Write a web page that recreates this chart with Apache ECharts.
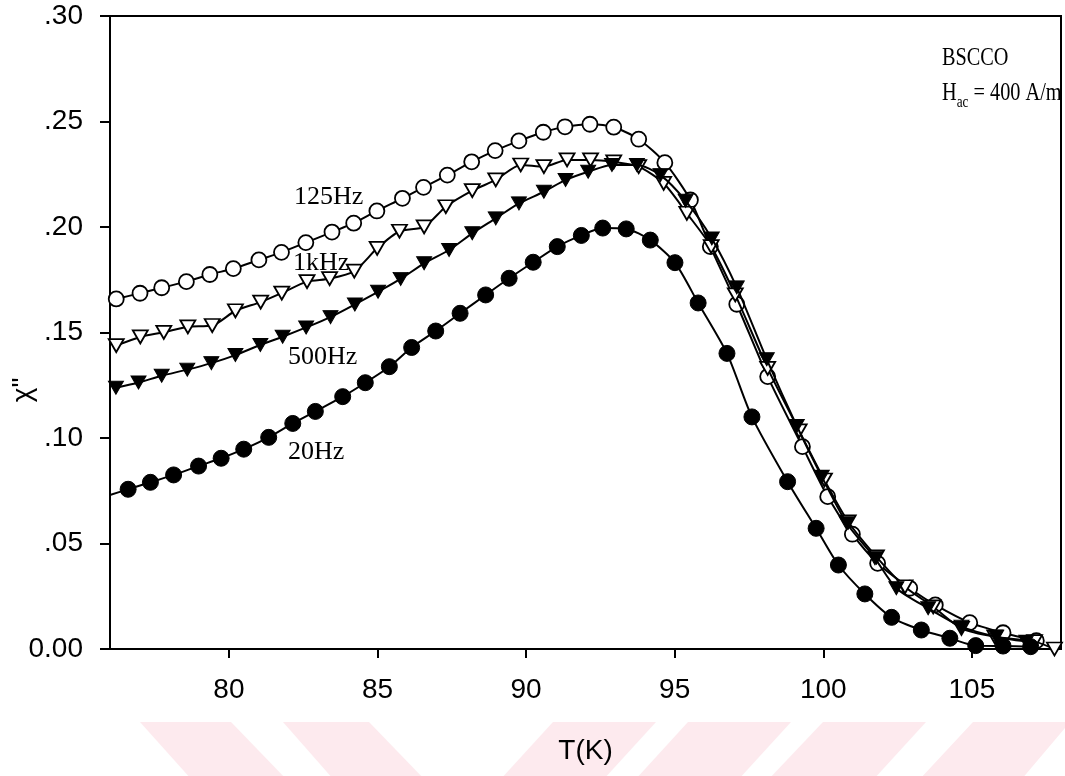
<!DOCTYPE html>
<html>
<head>
<meta charset="utf-8">
<script src="https://cdn.jsdelivr.net/npm/echarts@6/dist/echarts.min.js"></script>
<style>
html,body{margin:0;padding:0;background:#fff;}
#chart{width:1065px;height:776px;}
</style>
</head>
<body>
<div id="chart"></div>
<script>
// ---- data (T in K, chi'' values) ----
const xTicks = [80, 85, 90, 95, 100, 105];
const yTicks = [0, 0.05, 0.10, 0.15, 0.20, 0.25, 0.30];

const hz125 = [
  [76.21,0.1659],[77.01,0.1686],[77.74,0.1712],[78.57,0.1741],[79.36,0.1775],[80.15,0.1803],
  [81.01,0.1844],[81.77,0.1880],[82.59,0.1926],[83.47,0.1976],[84.20,0.2018],[84.98,0.2076],
  [85.84,0.2136],[86.55,0.2188],[87.35,0.2246],[88.17,0.2309],[88.96,0.2362],[89.76,0.2408],
  [90.58,0.2449],[91.31,0.2475],[92.15,0.2487],[92.95,0.2473],[93.79,0.2416],[94.67,0.2305],
  [95.53,0.2128],[96.20,0.1907],[97.09,0.1634],[98.13,0.1291],[99.30,0.0959],[100.15,0.0722],
  [100.98,0.0544],[101.83,0.0406],[102.91,0.0288],[103.77,0.0209],[104.93,0.0125],[106.05,0.0077],
  [107.17,0.0039]
];
const hz1k = [
  [76.21,0.1438],[77.02,0.1479],[77.81,0.1501],[78.62,0.1527],[79.44,0.1533],[80.22,0.1603],
  [81.07,0.1644],[81.78,0.1687],[82.63,0.1741],[83.39,0.1755],[84.22,0.1791],[84.99,0.1899],
  [85.74,0.1980],[86.57,0.2001],[87.30,0.2096],[88.19,0.2172],[88.98,0.2223],[89.82,0.2294],
  [90.60,0.2286],[91.38,0.2318],[92.17,0.2318],[92.95,0.2309],[93.79,0.2286],[94.63,0.2207],
  [95.41,0.2065],[96.23,0.1907],[97.04,0.1678],[98.13,0.1330],[99.19,0.1034],[100.04,0.0801],
  [100.84,0.0603],[101.79,0.0437],[102.75,0.0295],[103.70,0.0200],[104.65,0.0098],[105.77,0.0058],
  [107.11,0.0035],[107.78,0.0000]
];
const hz500 = [
  [76.20,0.1238],[76.96,0.1263],[77.74,0.1295],[78.60,0.1324],[79.41,0.1355],[80.22,0.1393],
  [81.06,0.1441],[81.81,0.1480],[82.60,0.1524],[83.42,0.1573],[84.24,0.1633],[85.02,0.1693],
  [85.78,0.1754],[86.57,0.1828],[87.41,0.1891],[88.19,0.1970],[88.98,0.2041],[89.76,0.2112],
  [90.60,0.2167],[91.33,0.2223],[92.09,0.2262],[92.89,0.2294],[93.73,0.2294],[94.52,0.2246],
  [95.37,0.2124],[96.25,0.1946],[97.09,0.1714],[98.10,0.1373],[99.11,0.1057],[99.95,0.0817],
  [100.79,0.0596],[101.74,0.0430],[102.46,0.0288],[103.53,0.0193],[104.65,0.0106],[105.82,0.0058],
  [106.83,0.0035]
];
const hz20Edge = [76.0, 0.0730];
const hz20 = [
  [76.61,0.0757],[77.36,0.0790],[78.14,0.0825],[78.98,0.0867],[79.74,0.0904],[80.50,0.0947],
  [81.34,0.1003],[82.15,0.1069],[82.91,0.1126],[83.83,0.1196],[84.59,0.1262],[85.40,0.1338],
  [86.15,0.1429],[86.96,0.1507],[87.78,0.1591],[88.64,0.1678],[89.43,0.1757],[90.24,0.1833],
  [91.05,0.1907],[91.86,0.1960],[92.58,0.1995],[93.37,0.1991],[94.18,0.1938],[95.01,0.1831],
  [95.79,0.1640],[96.76,0.1401],[97.60,0.1100],[98.80,0.0793],[99.76,0.0572],[100.51,0.0398],
  [101.40,0.0261],[102.30,0.0150],[103.30,0.0090],[104.26,0.0051],[105.13,0.0016],[106.05,0.0014],
  [106.98,0.0011]
];
const seriesNames = ['125Hz', '1kHz', '500Hz', '20Hz'];

// ---- chart ----
const chart = echarts.init(document.getElementById('chart'), null, {renderer: 'canvas'});
const SANS = 'Liberation Sans, Arial, sans-serif';
const SERIF = 'Liberation Serif, Times New Roman, serif';

function yFmt(v) {
  if (Math.abs(v) < 1e-9) return '0.00';
  return '.' + String(Math.round(v * 100)).padStart(2, '0');
}

const lineStyle = {color: '#000', width: 2};
const openStyle = {color: '#fff', borderColor: '#000', borderWidth: 1.8};
const fillStyle = {color: '#000', borderColor: '#000', borderWidth: 1};

const wm = '#fdeaee';
const wmPolys = [
  [[140,722],[231,722],[287,780],[192,780]],
  [[283,722],[369,722],[425,780],[334,780]],
  [[553,722],[656,722],[603,780],[500,780]],
  [[688,722],[791,722],[738,780],[635,780]],
  [[823,722],[926,722],[873,780],[768,780]],
  [[973,722],[1070,722],[1021,780],[919,780]]
];

const option = {
  backgroundColor: '#fff',
  animation: false,
  grid: {left: 110, right: 4, top: 16, bottom: 127, show: true, borderColor: '#000', borderWidth: 2, backgroundColor: 'transparent'},
  xAxis: {
    type: 'value', min: 76, max: 108,
    name: 'T(K)', nameLocation: 'middle', nameGap: 88,
    nameTextStyle: {fontFamily: SANS, fontSize: 28, color: '#000'},
    axisLine: {show: true, onZero: false, lineStyle: {color: '#000', width: 2}},
    axisTick: {show: true, inside: false, length: 9, lineStyle: {color: '#000', width: 2}, customValues: xTicks},
    axisLabel: {show: true, margin: 27, fontFamily: SANS, fontSize: 28, color: '#000', customValues: xTicks},
    splitLine: {show: false}
  },
  yAxis: {
    type: 'value', min: 0, max: 0.30, interval: 0.05,
    axisLine: {show: true, lineStyle: {color: '#000', width: 2}},
    axisTick: {show: true, inside: false, length: 10, lineStyle: {color: '#000', width: 2}},
    axisLabel: {show: true, margin: 27, fontFamily: SANS, fontSize: 28, color: '#000', formatter: yFmt},
    splitLine: {show: false}
  },
  series: [
    {
      name: seriesNames[0], type: 'line', data: hz125, smooth: 0.25,
      symbol: 'circle', symbolSize: 15, lineStyle: lineStyle, itemStyle: openStyle, z: 3
    },
    {
      name: seriesNames[1], type: 'line', data: hz1k, smooth: 0.25,
      symbol: 'triangle', symbolRotate: 180, symbolSize: [15, 13], lineStyle: lineStyle, itemStyle: openStyle, z: 4
    },
    {
      name: seriesNames[2], type: 'line', data: hz500, smooth: 0.25,
      symbol: 'triangle', symbolRotate: 180, symbolSize: [15, 13], lineStyle: lineStyle, itemStyle: fillStyle, z: 5
    },
    {
      name: seriesNames[3], type: 'line',
      data: [{value: hz20Edge, symbol: 'none'}].concat(hz20), smooth: 0.25,
      symbol: 'circle', symbolSize: 16, lineStyle: lineStyle, itemStyle: fillStyle, z: 6
    }
  ],
  graphic: [
    ...wmPolys.map(p => ({type: 'polygon', z: -10, silent: true, shape: {points: p}, style: {fill: wm}})),
    {type: 'text', x: 23, y: 390, rotation: Math.PI / 2, style: {text: 'χ"', font: '28px ' + SANS, fill: '#000', align: 'center', verticalAlign: 'middle'}},
    {type: 'text', x: 294, y: 197, style: {text: seriesNames[0], font: '26px ' + SERIF, fill: '#000', align: 'left', verticalAlign: 'middle'}},
    {type: 'text', x: 293, y: 263, style: {text: seriesNames[1], font: '26px ' + SERIF, fill: '#000', align: 'left', verticalAlign: 'middle'}},
    {type: 'text', x: 288, y: 357, style: {text: seriesNames[2], font: '26px ' + SERIF, fill: '#000', align: 'left', verticalAlign: 'middle'}},
    {type: 'text', x: 288, y: 452, style: {text: seriesNames[3], font: '26px ' + SERIF, fill: '#000', align: 'left', verticalAlign: 'middle'}},
    {type: 'text', x: 942, y: 58, scaleX: 0.78, style: {
      text: 'BSCCO', font: '26px ' + SERIF, fill: '#000',
      align: 'left', verticalAlign: 'middle'}},
    {type: 'text', x: 942, y: 93, scaleX: 0.78, style: {
      text: '{n|H}{s|ac}{n| = 400 A/m}',
      rich: {n: {fontFamily: SERIF, fontSize: 26, color: '#000', verticalAlign: 'bottom'},
             s: {fontFamily: SERIF, fontSize: 17, color: '#000', verticalAlign: 'bottom', padding: [0,0,-5,0]}},
      align: 'left', verticalAlign: 'middle'}}
  ]
};
chart.setOption(option);
</script>
</body>
</html>
